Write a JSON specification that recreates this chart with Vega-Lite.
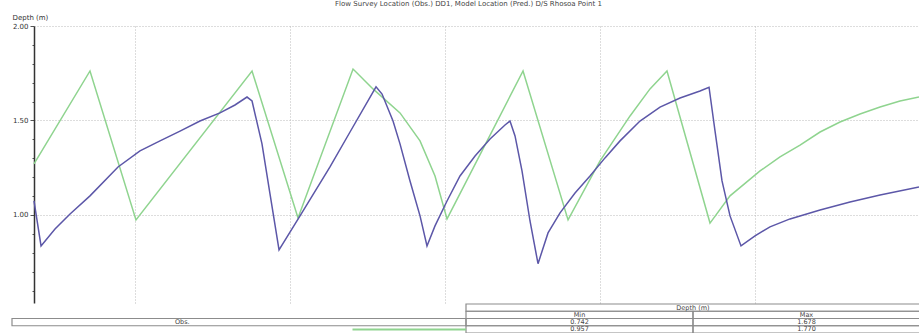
{
  "$schema": "https://vega.github.io/schema/vega-lite/v6.json",
  "background": "white",
  "padding": {"left": 11, "top": 0, "right": 0, "bottom": 0},
  "config": {"view": {"stroke": null}, "font": "DejaVu Sans", "concat": {"spacing": 0}},
  "datasets": {
    "depth": [
      {"series": "Pred.", "h": -15.64, "d": 1.270},
      {"series": "Pred.", "h": -6.97, "d": 1.762},
      {"series": "Pred.", "h": 0.15, "d": 0.974},
      {"series": "Pred.", "h": 18.12, "d": 1.762},
      {"series": "Pred.", "h": 25.24, "d": 0.984},
      {"series": "Pred.", "h": 33.76, "d": 1.772},
      {"series": "Pred.", "h": 36.85, "d": 1.667},
      {"series": "Pred.", "h": 41.03, "d": 1.540},
      {"series": "Pred.", "h": 44.13, "d": 1.392},
      {"series": "Pred.", "h": 46.45, "d": 1.206},
      {"series": "Pred.", "h": 48.31, "d": 0.979},
      {"series": "Pred.", "h": 60.08, "d": 1.762},
      {"series": "Pred.", "h": 67.05, "d": 0.974},
      {"series": "Pred.", "h": 72.0, "d": 1.286},
      {"series": "Pred.", "h": 76.65, "d": 1.524},
      {"series": "Pred.", "h": 79.74, "d": 1.667},
      {"series": "Pred.", "h": 82.37, "d": 1.762},
      {"series": "Pred.", "h": 89.03, "d": 0.957},
      {"series": "Pred.", "h": 92.13, "d": 1.101},
      {"series": "Pred.", "h": 96.78, "d": 1.233},
      {"series": "Pred.", "h": 99.87, "d": 1.307},
      {"series": "Pred.", "h": 102.97, "d": 1.370},
      {"series": "Pred.", "h": 106.07, "d": 1.439},
      {"series": "Pred.", "h": 109.16, "d": 1.492},
      {"series": "Pred.", "h": 112.26, "d": 1.534},
      {"series": "Pred.", "h": 115.36, "d": 1.571},
      {"series": "Pred.", "h": 118.45, "d": 1.603},
      {"series": "Pred.", "h": 121.39, "d": 1.624},
      {"series": "Obs.", "h": -15.64, "d": 1.074},
      {"series": "Obs.", "h": -14.55, "d": 0.836},
      {"series": "Obs.", "h": -12.39, "d": 0.926},
      {"series": "Obs.", "h": -10.06, "d": 1.005},
      {"series": "Obs.", "h": -6.97, "d": 1.101},
      {"series": "Obs.", "h": -2.63, "d": 1.254},
      {"series": "Obs.", "h": 0.77, "d": 1.339},
      {"series": "Obs.", "h": 3.87, "d": 1.392},
      {"series": "Obs.", "h": 6.97, "d": 1.444},
      {"series": "Obs.", "h": 10.06, "d": 1.497},
      {"series": "Obs.", "h": 13.16, "d": 1.540},
      {"series": "Obs.", "h": 15.48, "d": 1.582},
      {"series": "Obs.", "h": 17.34, "d": 1.624},
      {"series": "Obs.", "h": 18.12, "d": 1.603},
      {"series": "Obs.", "h": 19.66, "d": 1.376},
      {"series": "Obs.", "h": 20.90, "d": 1.111},
      {"series": "Obs.", "h": 22.30, "d": 0.815},
      {"series": "Obs.", "h": 25.55, "d": 0.995},
      {"series": "Obs.", "h": 30.19, "d": 1.254},
      {"series": "Obs.", "h": 33.29, "d": 1.439},
      {"series": "Obs.", "h": 37.32, "d": 1.678},
      {"series": "Obs.", "h": 38.25, "d": 1.640},
      {"series": "Obs.", "h": 39.95, "d": 1.497},
      {"series": "Obs.", "h": 41.03, "d": 1.376},
      {"series": "Obs.", "h": 42.58, "d": 1.180},
      {"series": "Obs.", "h": 44.13, "d": 0.995},
      {"series": "Obs.", "h": 45.21, "d": 0.836},
      {"series": "Obs.", "h": 46.45, "d": 0.942},
      {"series": "Obs.", "h": 48.31, "d": 1.074},
      {"series": "Obs.", "h": 50.32, "d": 1.206},
      {"series": "Obs.", "h": 52.65, "d": 1.312},
      {"series": "Obs.", "h": 54.97, "d": 1.402},
      {"series": "Obs.", "h": 57.29, "d": 1.476},
      {"series": "Obs.", "h": 58.06, "d": 1.497},
      {"series": "Obs.", "h": 58.84, "d": 1.418},
      {"series": "Obs.", "h": 59.92, "d": 1.233},
      {"series": "Obs.", "h": 61.16, "d": 0.968},
      {"series": "Obs.", "h": 62.40, "d": 0.742},
      {"series": "Obs.", "h": 63.95, "d": 0.905},
      {"series": "Obs.", "h": 65.81, "d": 1.011},
      {"series": "Obs.", "h": 68.13, "d": 1.116},
      {"series": "Obs.", "h": 70.45, "d": 1.206},
      {"series": "Obs.", "h": 72.77, "d": 1.302},
      {"series": "Obs.", "h": 75.10, "d": 1.392},
      {"series": "Obs.", "h": 78.19, "d": 1.497},
      {"series": "Obs.", "h": 81.29, "d": 1.571},
      {"series": "Obs.", "h": 84.39, "d": 1.619},
      {"series": "Obs.", "h": 87.48, "d": 1.656},
      {"series": "Obs.", "h": 88.88, "d": 1.676},
      {"series": "Obs.", "h": 89.81, "d": 1.444},
      {"series": "Obs.", "h": 90.89, "d": 1.180},
      {"series": "Obs.", "h": 92.13, "d": 0.995},
      {"series": "Obs.", "h": 93.83, "d": 0.836},
      {"series": "Obs.", "h": 96.0, "d": 0.889},
      {"series": "Obs.", "h": 98.32, "d": 0.937},
      {"series": "Obs.", "h": 101.42, "d": 0.979},
      {"series": "Obs.", "h": 106.07, "d": 1.026},
      {"series": "Obs.", "h": 110.71, "d": 1.069},
      {"series": "Obs.", "h": 115.36, "d": 1.106},
      {"series": "Obs.", "h": 121.39, "d": 1.148}
    ],
    "cells": [
      {"row": "h", "c0": 4, "c1": 8},
      {"row": "c", "c0": 4, "c1": 6},
      {"row": "c", "c0": 6, "c1": 8},
      {"row": "o", "c0": 0, "c1": 4},
      {"row": "o", "c0": 4, "c1": 6},
      {"row": "o", "c0": 6, "c1": 8},
      {"row": "p", "c0": 4, "c1": 6},
      {"row": "p", "c0": 6, "c1": 8}
    ],
    "labels": [
      {"row": "h", "col": 6, "text": "Depth (m)"},
      {"row": "c", "col": 5, "text": "Min"},
      {"row": "c", "col": 7, "text": "Max"},
      {"row": "o", "col": 1.5, "text": "Obs."},
      {"row": "o", "col": 5, "text": "0.742"},
      {"row": "o", "col": 7, "text": "1.678"},
      {"row": "p", "col": 5, "text": "0.957"},
      {"row": "p", "col": 7, "text": "1.770"}
    ],
    "swatch": [
      {"row": "p", "c0": 3, "c1": 4, "series": "Pred."}
    ]
  },
  "resolve": {"scale": {"x": "independent", "y": "independent"}},
  "vconcat": [
    {
      "width": 885,
      "height": 277,
      "title": {"text": "Flow Survey Location (Obs.) DD1, Model Location (Pred.) D/S Rhosoa Point 1", "fontSize": 7, "fontWeight": "normal", "color": "#444", "dx": -8, "offset": 6},
      "data": {"name": "depth"},
      "mark": {"type": "line", "strokeWidth": 1.5},
      "encoding": {
        "x": {"field": "h", "type": "quantitative", "scale": {"domain": [-15.64, 121.39], "nice": false, "zero": false},
          "axis": {"values": [0, 24, 48, 72, 96], "labels": false, "ticks": false, "domain": false, "title": null, "grid": true, "gridDash": [1, 2], "gridColor": "#bbbbbb"}},
        "y": {"field": "d", "type": "quantitative", "scale": {"domain": [0.534, 2.0], "nice": false, "zero": false},
          "axis": {"values": [0.6, 0.7, 0.8, 0.9, 1.0, 1.1, 1.2, 1.3, 1.4, 1.5, 1.6, 1.7, 1.8, 1.9, 2.0],
            "labelExpr": "indexof([1, 1.5, 2], datum.value) >= 0 ? format(datum.value, '.2f') : ''",
            "labelFontSize": 7, "labelColor": "#333", "labelPadding": 2,
            "tickSize": {"condition": {"test": "indexof([1, 1.5, 2], datum.value) >= 0", "value": 4}, "value": 2},
            "tickColor": "#555",
            "domainColor": "#333", "domainWidth": 1.5,
            "grid": true, "gridDash": [1, 2], "gridColor": "#bbbbbb",
            "gridOpacity": {"condition": {"test": "indexof([1, 1.5, 2], datum.value) >= 0", "value": 1}, "value": 0},
            "title": "Depth (m)", "titleAngle": 0, "titleAlign": "left", "titleBaseline": "bottom", "titleX": -22, "titleY": -6,
            "titleFontSize": 7, "titleFontWeight": "normal", "titleColor": "#333"}},
        "color": {"field": "series", "type": "nominal", "scale": {"domain": ["Obs.", "Pred."], "range": ["#5c57a8", "#8fd48f"]}, "legend": null}
      }
    },
    {
      "width": 885,
      "height": 29,
      "layer": [
        {
          "data": {"name": "cells"},
          "mark": {"type": "rect", "filled": false, "color": "#8c8c8c", "strokeWidth": 1.2},
          "encoding": {
            "x": {"field": "c0", "type": "quantitative", "scale": {"domain": [0, 8], "nice": false, "zero": false, "range": [-22, 886]}, "axis": null},
            "x2": {"field": "c1"},
            "y": {"field": "row", "type": "nominal", "scale": {"domain": ["h", "c", "o", "p"], "paddingInner": 0, "paddingOuter": 0}, "axis": null}
          }
        },
        {
          "data": {"name": "labels"},
          "mark": {"type": "text", "fontSize": 6.5, "color": "#444"},
          "encoding": {
            "x": {"field": "col", "type": "quantitative"},
            "y": {"field": "row", "type": "nominal"},
            "text": {"field": "text"}
          }
        },
        {
          "data": {"name": "swatch"},
          "mark": {"type": "rule", "strokeWidth": 2, "color": "#8fd48f"},
          "encoding": {
            "x": {"field": "c0", "type": "quantitative"},
            "x2": {"field": "c1"},
            "y": {"field": "row", "type": "nominal"}
          }
        }
      ]
    }
  ]
}
